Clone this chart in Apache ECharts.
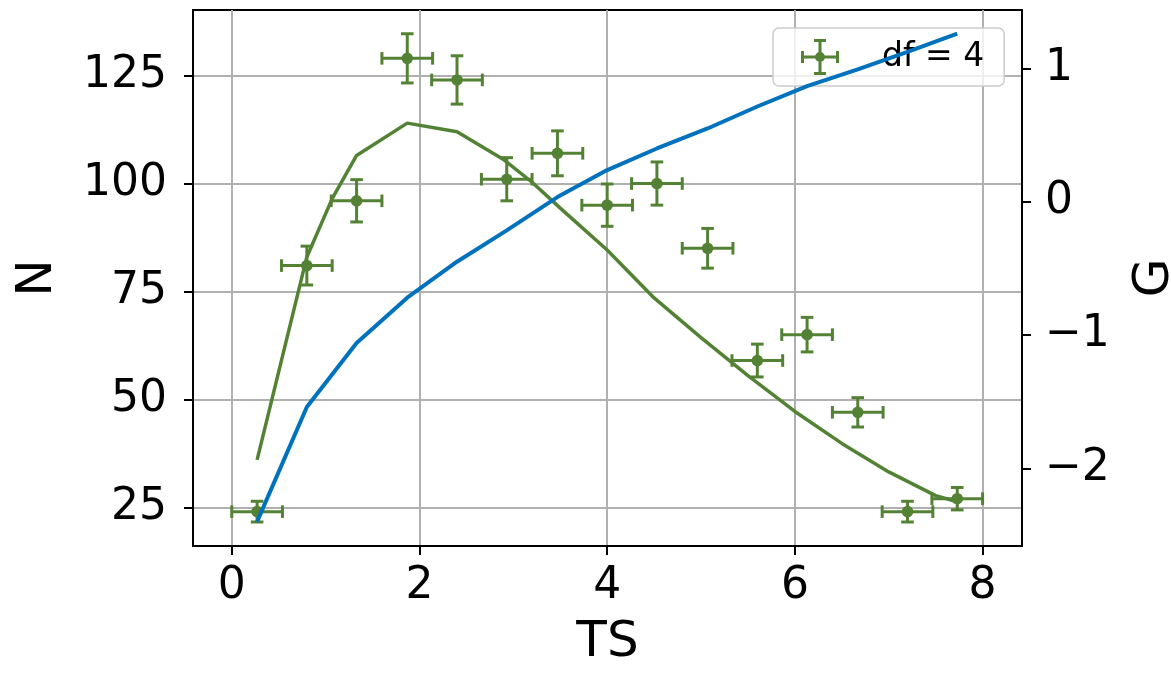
<!DOCTYPE html>
<html><head><meta charset="utf-8">
<script src="https://cdn.jsdelivr.net/npm/echarts@6/dist/echarts.min.js"></script>
<style>html,body{margin:0;padding:0;background:#fff}#c{width:1171px;height:673px}</style>
</head><body><div id="c"></div>
<script>
// ---- data ----
const binCenters = [0.27, 0.8, 1.33, 1.87, 2.4, 2.93, 3.47, 4.0, 4.53, 5.07, 5.6, 6.13, 6.67, 7.2, 7.73];
const counts     = [24, 81, 96, 129, 124, 101, 107, 95, 100, 85, 59, 65, 47, 24, 27];
const xErr       = [0.27, 0.27, 0.27, 0.27, 0.27, 0.27, 0.27, 0.27, 0.27, 0.27, 0.27, 0.27, 0.27, 0.27, 0.27];
const yErr       = [2.4, 4.5, 4.9, 5.7, 5.6, 5.0, 5.2, 4.9, 5.0, 4.6, 3.8, 4.0, 3.4, 2.4, 2.6];
const modelX     = [0.27, 0.8, 1.07, 1.33, 1.87, 2.4, 2.9, 3.2, 3.5, 4.0, 4.5, 5.0, 5.5, 6.0, 6.5, 7.0, 7.5, 7.73];
const modelN     = [36, 83, 96.5, 106.5, 114, 112, 105.5, 100.3, 94.3, 84.6, 73.5, 64.3, 55.5, 47.2, 39.8, 33.2, 27.7, 26.3];
const gValues    = [-2.40, -1.54, -1.06, -0.72, -0.45, -0.215, 0.035, 0.238, 0.40, 0.55, 0.715, 0.868, 0.993, 1.124, 1.262];
const xTicks = [0, 2, 4, 6, 8];
const nTicks = [25, 50, 75, 100, 125];
const gTicks = [-2, -1, 0, 1];
const legendLabel = 'df = 4';

const GREEN = '#548235';
const BLUE = '#0072BD';
const FONT = 'DejaVu Sans';

const chart = echarts.init(document.getElementById('c'), null, {renderer: 'canvas'});

const errData = binCenters.map((x, i) => [x, counts[i], xErr[i], yErr[i]]);
const modelData = modelX.map((x, i) => [x, modelN[i]]);
const gData = binCenters.map((x, i) => [x, gValues[i]]);

const iconPath = 'path://M0 16.5h38v3h-38z M0 12h3v12h-3z M35 12h3v12h-3z M17.5 0h3v36h-3z M13 0h12v3h-12z M13 33h12v3h-12z M24 18A5 5 0 1 1 14 18A5 5 0 1 1 24 18Z';

const fmtMinus = v => (v < 0 ? '\u2212' + Math.abs(v) : String(v));

chart.setOption({
  animation: false,
  backgroundColor: '#ffffff',
  grid: {left: 193, right: 149, top: 10, bottom: 127, show: true, borderColor: '#000', borderWidth: 2,
         backgroundColor: 'transparent', containLabel: false, outerBoundsMode: 'none'},
  legend: {
    left: 773, top: 28,
    padding: [11, 20, 11, 28],
    itemWidth: 38, itemHeight: 36,
    backgroundColor: 'rgba(255,255,255,0.8)',
    borderColor: '#cccccc', borderWidth: 1.5, borderRadius: 6,
    data: [{name: legendLabel, icon: iconPath}],
    textStyle: {fontSize: 33, color: '#000', fontFamily: FONT, padding: [0, 0, 0, 38]}
  },
  xAxis: {
    type: 'value', min: -0.413, max: 8.42,
    name: 'TS', nameLocation: 'middle', nameGap: 72,
    nameTextStyle: {fontSize: 50, color: '#000', fontFamily: FONT},
    axisLine: {show: true, onZero: false, lineStyle: {color: '#000', width: 2}},
    axisTick: {show: true, length: 9, customValues: xTicks, lineStyle: {color: '#000', width: 2}},
    axisLabel: {customValues: xTicks, fontSize: 44, color: '#000', margin: 19, fontFamily: FONT},
    splitLine: {show: true, lineStyle: {color: '#b0b0b0', width: 2}}
  },
  yAxis: [{
    type: 'value', min: 16.04, max: 140.2, position: 'left',
    name: 'N', nameLocation: 'middle', nameGap: 130,
    nameTextStyle: {fontSize: 50, color: '#000', fontFamily: FONT},
    axisLine: {show: true, onZero: false, lineStyle: {color: '#000', width: 2}},
    axisTick: {show: true, length: 9, customValues: nTicks, lineStyle: {color: '#000', width: 2}},
    axisLabel: {customValues: nTicks, fontSize: 44, color: '#000', margin: 26, fontFamily: FONT},
    splitLine: {show: true, lineStyle: {color: '#b0b0b0', width: 2}}
  }, {
    type: 'value', min: -2.583, max: 1.439, position: 'right',
    name: 'G', nameLocation: 'middle', nameGap: 108,
    nameTextStyle: {fontSize: 50, color: '#000', fontFamily: FONT},
    axisLine: {show: true, onZero: false, lineStyle: {color: '#000', width: 2}},
    axisTick: {show: true, length: 9, customValues: gTicks, lineStyle: {color: '#000', width: 2}},
    axisLabel: {customValues: gTicks, fontSize: 44, color: '#000', margin: 23, fontFamily: FONT, formatter: fmtMinus},
    splitLine: {show: false}
  }],
  series: [{
    name: legendLabel,
    type: 'custom',
    xAxisIndex: 0, yAxisIndex: 0,
    itemStyle: {color: GREEN},
    dimensions: ['x', 'y', 'ex', 'ey'],
    encode: {x: 0, y: 1},
    data: errData,
    z: 3,
    renderItem: function (params, api) {
      const x = api.value(0), y = api.value(1), ex = api.value(2), ey = api.value(3);
      const c = api.coord([x, y]);
      const l = api.coord([x - ex, y]);
      const r = api.coord([x + ex, y]);
      const t = api.coord([x, y + ey]);
      const b = api.coord([x, y - ey]);
      const cap = 6.3;
      const st = {stroke: GREEN, lineWidth: 3};
      return {type: 'group', children: [
        {type: 'line', shape: {x1: l[0], y1: c[1], x2: r[0], y2: c[1]}, style: st},
        {type: 'line', shape: {x1: l[0], y1: c[1] - cap, x2: l[0], y2: c[1] + cap}, style: st},
        {type: 'line', shape: {x1: r[0], y1: c[1] - cap, x2: r[0], y2: c[1] + cap}, style: st},
        {type: 'line', shape: {x1: c[0], y1: t[1], x2: c[0], y2: b[1]}, style: st},
        {type: 'line', shape: {x1: c[0] - cap, y1: t[1], x2: c[0] + cap, y2: t[1]}, style: st},
        {type: 'line', shape: {x1: c[0] - cap, y1: b[1], x2: c[0] + cap, y2: b[1]}, style: st},
        {type: 'circle', shape: {cx: c[0], cy: c[1], r: 5.8}, style: {fill: GREEN}}
      ]};
    }
  }, {
    name: 'model',
    type: 'line',
    xAxisIndex: 0, yAxisIndex: 0,
    data: modelData,
    showSymbol: false, symbol: 'none',
    lineStyle: {color: GREEN, width: 3.5},
    itemStyle: {color: GREEN},
    z: 4
  }, {
    name: 'G',
    type: 'line',
    xAxisIndex: 0, yAxisIndex: 1,
    data: gData,
    showSymbol: false, symbol: 'none',
    lineStyle: {color: BLUE, width: 4},
    itemStyle: {color: BLUE},
    z: 10
  }]
});
</script>
</body></html>
